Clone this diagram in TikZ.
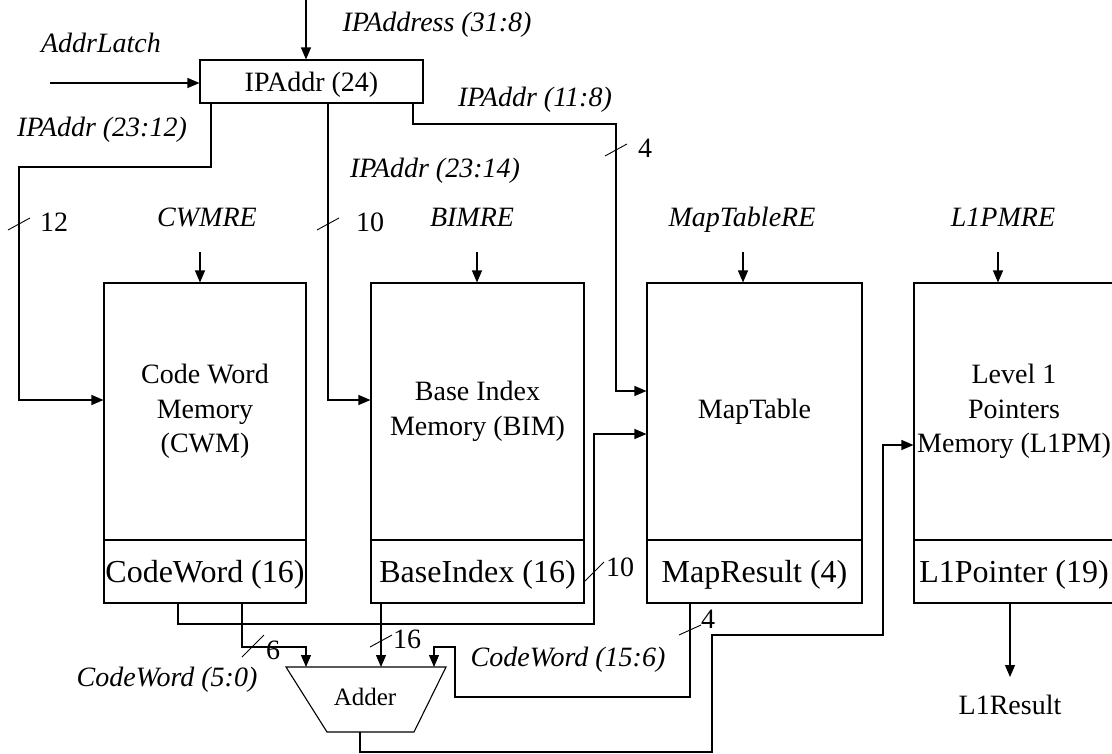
\documentclass[tikz,border=0pt]{standalone}
\usepackage{fontspec}
\setmainfont{Liberation Serif}
\usetikzlibrary{arrows.meta}
\begin{document}
\begin{tikzpicture}[x=1pt,y=-1pt,
  every node/.style={font=\fontsize{28}{34.5}\selectfont, inner sep=0pt},
  oneline/.style={text height=19pt, text depth=0pt},
  wire/.style={line width=1.1pt},
  arr/.style={wire, -{Triangle[length=12pt,width=10pt]}},
  reg/.style={draw, line width=1.1pt, oneline},
  mem/.style={draw, line width=1.1pt, minimum height=257pt, align=center},
  memout/.style={draw, line width=1.1pt, minimum height=63pt,
    font=\fontsize{32}{38}\selectfont, text height=21.5pt, text depth=0pt},
  lbl/.style={font=\fontsize{28}{34}\selectfont\itshape, oneline},
  num/.style={font=\fontsize{28}{34}\selectfont, oneline},
  bus/.style={line width=0.9pt}]
\useasboundingbox (0,0) rectangle (1112,753);

% address register
\node[reg, minimum width=223pt, minimum height=43pt] (ipaddr) at (311.5,81.5) {IPAddr (24)};

% memories: body and output register
\node[mem, minimum width=202pt] (cwm) at (205,411.5) {Code Word\\Memory\\(CWM)};
\node[memout, minimum width=202pt] (cwmo) at (205,571.5) {CodeWord (16)};
\node[mem, minimum width=213pt] (bim) at (477.5,411.5) {Base Index\\Memory (BIM)};
\node[memout, minimum width=213pt] (bimo) at (477.5,571.5) {BaseIndex (16)};
\node[mem, minimum width=215pt] (map) at (754.5,411.5) {MapTable};
\node[memout, minimum width=215pt] (mapo) at (754.5,571.5) {MapResult (4)};
\node[mem, minimum width=200pt] (lpm) at (1014,411.5) {Level 1\\Pointers\\Memory (L1PM)};
\node[memout, minimum width=200pt] (lpmo) at (1014,571.5) {L1Pointer (19)};

% adder
\draw[wire] (286,667) -- (446,667) -- (414,732) -- (327,732) -- cycle;
\node[font=\fontsize{25}{30}\selectfont] (adder) at (365,697) {Adder};

% signal names
\node[lbl] (addrlatch) at (101,43) {AddrLatch};
\node[lbl] (ipaddress) at (437,22) {IPAddress (31:8)};
\node[lbl] (lbhi) at (102,127) {IPAddr (23:12)};
\node[lbl] (lblo) at (535,97) {IPAddr (11:8)};
\node[lbl] (lbmid) at (435,168) {IPAddr (23:14)};
\node[lbl] (cwmre) at (207,217) {CWMRE};
\node[lbl] (bimre) at (472,217) {BIMRE};
\node[lbl] (mapre) at (742,217) {MapTableRE};
\node[lbl] (lpmre) at (1003,217) {L1PMRE};
\node[lbl] (cwlo) at (167,677) {CodeWord (5:0)};
\node[lbl] (cwhi) at (568,657) {CodeWord (15:6)};
\node[oneline] (l1res) at (1010,705) {L1Result};

% bus widths
\node[num] (w12) at (54,222) {12};
\node[num] (w10a) at (370,222) {10};
\node[num] (w4a) at (645,148) {4};
\node[num] (w6) at (273,650) {6};
\node[num] (w16) at (407,639) {16};
\node[num] (w10b) at (620,567) {10};
\node[num] (w4b) at (708,619) {4};

% inputs of the address register
\coordinate (ipin) at (306,0);
\draw[arr] (ipin) -- (ipin |- ipaddr.north);
\coordinate (latchin) at (50,83);
\draw[arr] (latchin) -- (latchin -| ipaddr.west);

% address fields
\coordinate (b1a) at (211,167); \coordinate (b1b) at (19,400);
\draw[arr] (b1a |- ipaddr.south) -- (b1a) -- (b1a -| b1b) -- (b1b) -- (b1b -| cwm.west);
\coordinate (b2) at (328,400);
\draw[arr] (b2 |- ipaddr.south) -- (b2) -- (b2 -| bim.west);
\coordinate (b3a) at (413,124); \coordinate (b3b) at (616,391);
\draw[arr] (b3a |- ipaddr.south) -- (b3a) -- (b3a -| b3b) -- (b3b) -- (b3b -| map.west);

% read enables
\coordinate (re1) at (200,252);
\draw[arr] (re1) -- (re1 |- cwm.north);
\coordinate (re2) at (477,252);
\draw[arr] (re2) -- (re2 |- bim.north);
\coordinate (re3) at (743,252);
\draw[arr] (re3) -- (re3 |- map.north);
\coordinate (re4) at (998,252);
\draw[arr] (re4) -- (re4 |- lpm.north);

% code word high bits to the map table
\coordinate (c1a) at (178,624); \coordinate (c1b) at (594,434);
\draw[arr] (c1a |- cwmo.south) -- (c1a) -- (c1a -| c1b) -- (c1b) -- (c1b -| map.west);

% adder operands
\coordinate (c2a) at (242,647); \coordinate (ain1) at (306,667);
\draw[arr] (c2a |- cwmo.south) -- (c2a) -- (c2a -| ain1) -- (ain1);
\coordinate (ain2) at (381,667);
\draw[arr] (ain2 |- bimo.south) -- (ain2);
\coordinate (c3a) at (690,697); \coordinate (c3b) at (455,647); \coordinate (ain3) at (434,667);
\draw[arr] (c3a |- mapo.south) -- (c3a) -- (c3a -| c3b) -- (c3b) -- (c3b -| ain3) -- (ain3);

% adder result to the level 1 pointer memory
\coordinate (aout) at (360,732);
\coordinate (d1) at (712,752); \coordinate (d2) at (883,635); \coordinate (d3) at (883,445);
\draw[arr] (aout) |- (d1) |- (d2) -- (d3) -- (d3 -| lpm.west);

% final output
\coordinate (resin) at (1010,677);
\draw[arr] (resin |- lpmo.south) -- (resin);

% bus slashes
\draw[bus] (8,230) -- (30,218);
\draw[bus] (317,230) -- (339,218);
\draw[bus] (605,156) -- (627,144);
\draw[bus] (242,657) -- (264,635);
\draw[bus] (370,647) -- (392,635);
\draw[bus] (584,582) -- (604,562);
\draw[bus] (679,635) -- (701,625);
\end{tikzpicture}
\end{document}
